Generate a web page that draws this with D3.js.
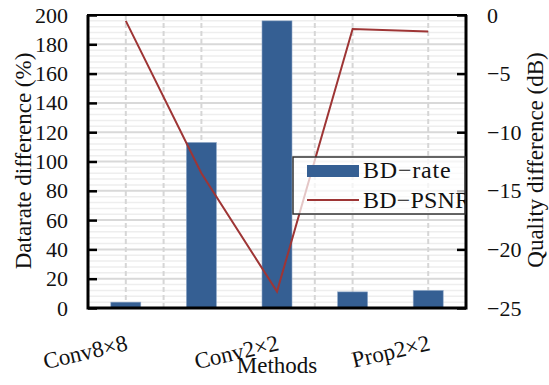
<!DOCTYPE html>
<html>
<head>
<meta charset="utf-8">
<script src="https://cdn.jsdelivr.net/npm/d3@7"></script>
<style>
  body { margin: 0; background: #fff; }
  text { font-family: "Liberation Serif", serif; fill: #111; }
</style>
</head>
<body>
<svg id="chart" width="549" height="385"></svg>
<script>
// data
var categories = ['Conv8×8', 'Conv4×4', 'Conv2×2', 'Prop4×4', 'Prop2×2'],
    bdRate = [4, 113, 196, 11, 12],
    bdPsnr = [-0.5, -13.5, -23.6, -1.2, -1.4],
    leftTicks = [0, 20, 40, 60, 80, 100, 120, 140, 160, 180, 200],
    rightTicks = [0, -5, -10, -15, -20, -25],
    vGrid = [0, 0.5, 1, 2.5, 3, 4];   // dashed vertical lines, in category units

var svg = d3.select('#chart'),
    L = 88, R = 466, T = 15, B = 308;

var x = d3.scaleLinear().domain([-0.5, categories.length - 0.5]).range([L, R]),
    yL = d3.scaleLinear().domain([0, 200]).range([B, T]),
    yR = d3.scaleLinear().domain([-25, 0]).range([B, T]),
    barW = 30;

// minor + major horizontal grid
svg.append('g').selectAll('line')
    .data(d3.range(0, 201, 4).filter(function (v) { return v % 20 !== 0; }))
    .enter().append('line')
    .attr('x1', L).attr('x2', R)
    .attr('y1', yL).attr('y2', yL)
    .attr('stroke', '#eeeeee').attr('stroke-width', 1.5);

svg.append('g').selectAll('line')
    .data(leftTicks)
    .enter().append('line')
    .attr('x1', L).attr('x2', R)
    .attr('y1', yL).attr('y2', yL)
    .attr('stroke', '#d9d9d9').attr('stroke-width', 2);

svg.append('g').selectAll('line')
    .data(vGrid)
    .enter().append('line')
    .attr('x1', x).attr('x2', x)
    .attr('y1', T).attr('y2', B)
    .attr('stroke', '#d6d6d6').attr('stroke-width', 2)
    .attr('stroke-dasharray', '5,3');

// bars
svg.append('g').selectAll('rect')
    .data(bdRate)
    .enter().append('rect')
    .attr('x', function (d, i) { return x(i) - barW / 2; })
    .attr('width', barW)
    .attr('y', function (d) { return yL(d); })
    .attr('height', function (d) { return B - yL(d); })
    .attr('fill', '#355f93')
    .attr('stroke', '#8fa7c7').attr('stroke-width', 0.6);

// line
var line = d3.line()
    .x(function (d, i) { return x(i); })
    .y(function (d) { return yR(d); });

svg.append('path')
    .datum(bdPsnr)
    .attr('d', line)
    .attr('fill', 'none')
    .attr('stroke', '#9e3535')
    .attr('stroke-width', 2);

// axes
var axL = svg.append('g')
    .attr('transform', 'translate(' + L + ',0)')
    .call(d3.axisLeft(yL).tickValues(leftTicks).tickSize(-9).tickPadding(20));
var axR = svg.append('g')
    .attr('transform', 'translate(' + R + ',0)')
    .call(d3.axisRight(yR).tickValues(rightTicks).tickSize(-9).tickPadding(21));

[axL, axR].forEach(function (a) {
    a.select('.domain').remove();
    a.selectAll('.tick line').attr('stroke', '#000').attr('stroke-width', 2.5);
    a.selectAll('.tick text')
        .attr('fill', '#111')
        .style('font-family', '"Liberation Serif", serif')
        .style('font-size', '22px');
});

// frame
svg.append('rect')
    .attr('x', L).attr('y', T)
    .attr('width', R - L).attr('height', B - T)
    .attr('fill', 'none')
    .attr('stroke', '#000').attr('stroke-width', 2);
svg.append('path')
    .attr('d', 'M' + L + ',' + T + 'V' + B + 'H' + R + 'V' + T)
    .attr('fill', 'none')
    .attr('stroke', '#000').attr('stroke-width', 3);

// category labels (every other one shown)
svg.append('g').selectAll('text')
    .data(categories.filter(function (d, i) { return i % 2 === 0; }))
    .enter().append('text')
    .attr('transform', function (d, i) {
        return 'translate(' + (x(i * 2) + 3) + ',350) rotate(-13)';
    })
    .attr('text-anchor', 'end')
    .style('font-size', '23px')
    .text(function (d) { return d; });

// axis titles
svg.append('text')
    .attr('x', 277).attr('y', 373)
    .attr('text-anchor', 'middle')
    .style('font-size', '23px')
    .text('Methods');

svg.append('text')
    .attr('transform', 'translate(31,161) rotate(-90)')
    .attr('text-anchor', 'middle')
    .style('font-size', '23px')
    .text('Datarate difference (%)');

svg.append('text')
    .attr('transform', 'translate(543,160) rotate(-90)')
    .attr('text-anchor', 'middle')
    .style('font-size', '23px')
    .text('Quality difference (dB)');

// legend
var lg = svg.append('g').attr('transform', 'translate(293,157)');
lg.append('clipPath').attr('id', 'lgclip')
    .append('rect').attr('width', 172).attr('height', 57);
lg.append('rect')
    .attr('width', 172).attr('height', 57)
    .attr('fill', '#fff').attr('fill-opacity', 0.72)
    .attr('stroke', '#333').attr('stroke-width', 1.5);
var lgItems = lg.append('g').attr('clip-path', 'url(#lgclip)');
lgItems.append('rect')
    .attr('x', 14).attr('y', 8).attr('width', 52).attr('height', 12)
    .attr('fill', '#355f93');
lgItems.append('text')
    .attr('x', 70).attr('y', 21)
    .style('font-size', '24px')
    .style('letter-spacing', '0.8px')
    .text('BD−rate');
lgItems.append('line')
    .attr('x1', 14).attr('x2', 66).attr('y1', 43).attr('y2', 43)
    .attr('stroke', '#9e3535').attr('stroke-width', 2);
lgItems.append('text')
    .attr('x', 70).attr('y', 51)
    .style('font-size', '24px')
    .style('letter-spacing', '0.2px')
    .text('BD−PSNR');
</script>
</body>
</html>
